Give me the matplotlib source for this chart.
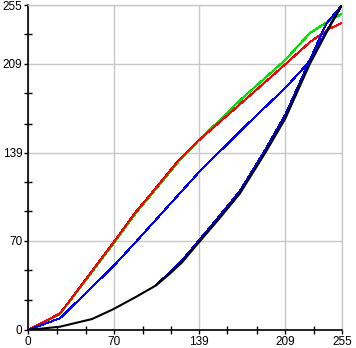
import matplotlib
matplotlib.use("Agg")
import matplotlib.pyplot as plt

# curve samples (input level -> output level)
green_x = [0, 26, 70, 87, 100, 123, 139, 172, 209, 229, 245, 255]
green_y = [0, 12.5, 68.5, 91, 106, 133, 149, 180, 212, 233, 243, 248]

red_x = [0, 26, 70, 87, 100, 123, 139, 172, 209, 229, 245, 255]
red_y = [0, 13, 69.5, 92, 107, 134, 149, 177, 208.5, 226, 236.5, 241]

blue_x = [0, 26, 69, 87, 139, 172, 183, 209, 227, 255]
blue_y = [0, 9.2, 49.7, 68.5, 124, 155.6, 166, 190, 209, 255]

black_x = [0, 26, 52, 69, 87, 104, 115, 125, 139, 155, 172, 193, 209, 229, 245, 255]
black_y = [0, 2.6, 8.6, 16.2, 25.6, 35, 44, 53, 69, 87, 107, 139.5, 166, 209, 238, 255]

blue2_x = [104, 115, 125, 139, 155, 172, 193, 209, 229, 242, 255]
blue2_y = [35.5, 45, 54.5, 70.5, 89, 109, 142, 169, 212, 240, 255]

major = [0, 70, 139, 209, 255]
minor = [23.3, 46.7, 93, 116, 162, 186, 232]

fig = plt.figure(figsize=(3.56, 3.48), dpi=100)
ax = fig.add_axes([28 / 356, 18 / 348, 314 / 356, 325 / 348])

ax.plot(green_x, green_y, color="#00e000", lw=0.7, antialiased=False, zorder=3)
ax.plot(red_x, red_y, color="#ff0000", lw=0.7, antialiased=False, zorder=3)
ax.plot(blue_x, blue_y, color="#0000ff", lw=0.7, antialiased=False, zorder=3)
ax.plot(blue2_x, blue2_y, color="#0000ff", lw=0.7, antialiased=False, zorder=3)
ax.plot(black_x, black_y, color="black", lw=1.5, zorder=4)

ax.set_xlim(0, 255)
ax.set_ylim(0, 255)
ax.set_xticks(major)
ax.set_yticks(major)
ax.set_xticks(minor, minor=True)
ax.set_yticks(minor, minor=True)
ax.set_xticklabels([str(v) for v in major])
ax.set_yticklabels([str(v) for v in major])

ax.grid(True, which="major", color="#c8c8c8", lw=1.0, zorder=0)
ax.set_axisbelow(True)

for side in ["top", "right"]:
    ax.spines[side].set_color("#c8c8c8")
    ax.spines[side].set_linewidth(1.0)
for side in ["left", "bottom"]:
    ax.spines[side].set_linewidth(1.2)

ax.tick_params(which="major", direction="out", length=3, width=1, pad=1,
               labelsize=8.5)
ax.tick_params(which="minor", direction="inout", length=6, width=1)
ax.tick_params(axis="x", which="major", pad=1)
for lab in ax.get_xticklabels() + ax.get_yticklabels():
    lab.set_family("Liberation Sans")

fig.savefig("out.png", dpi=100)
